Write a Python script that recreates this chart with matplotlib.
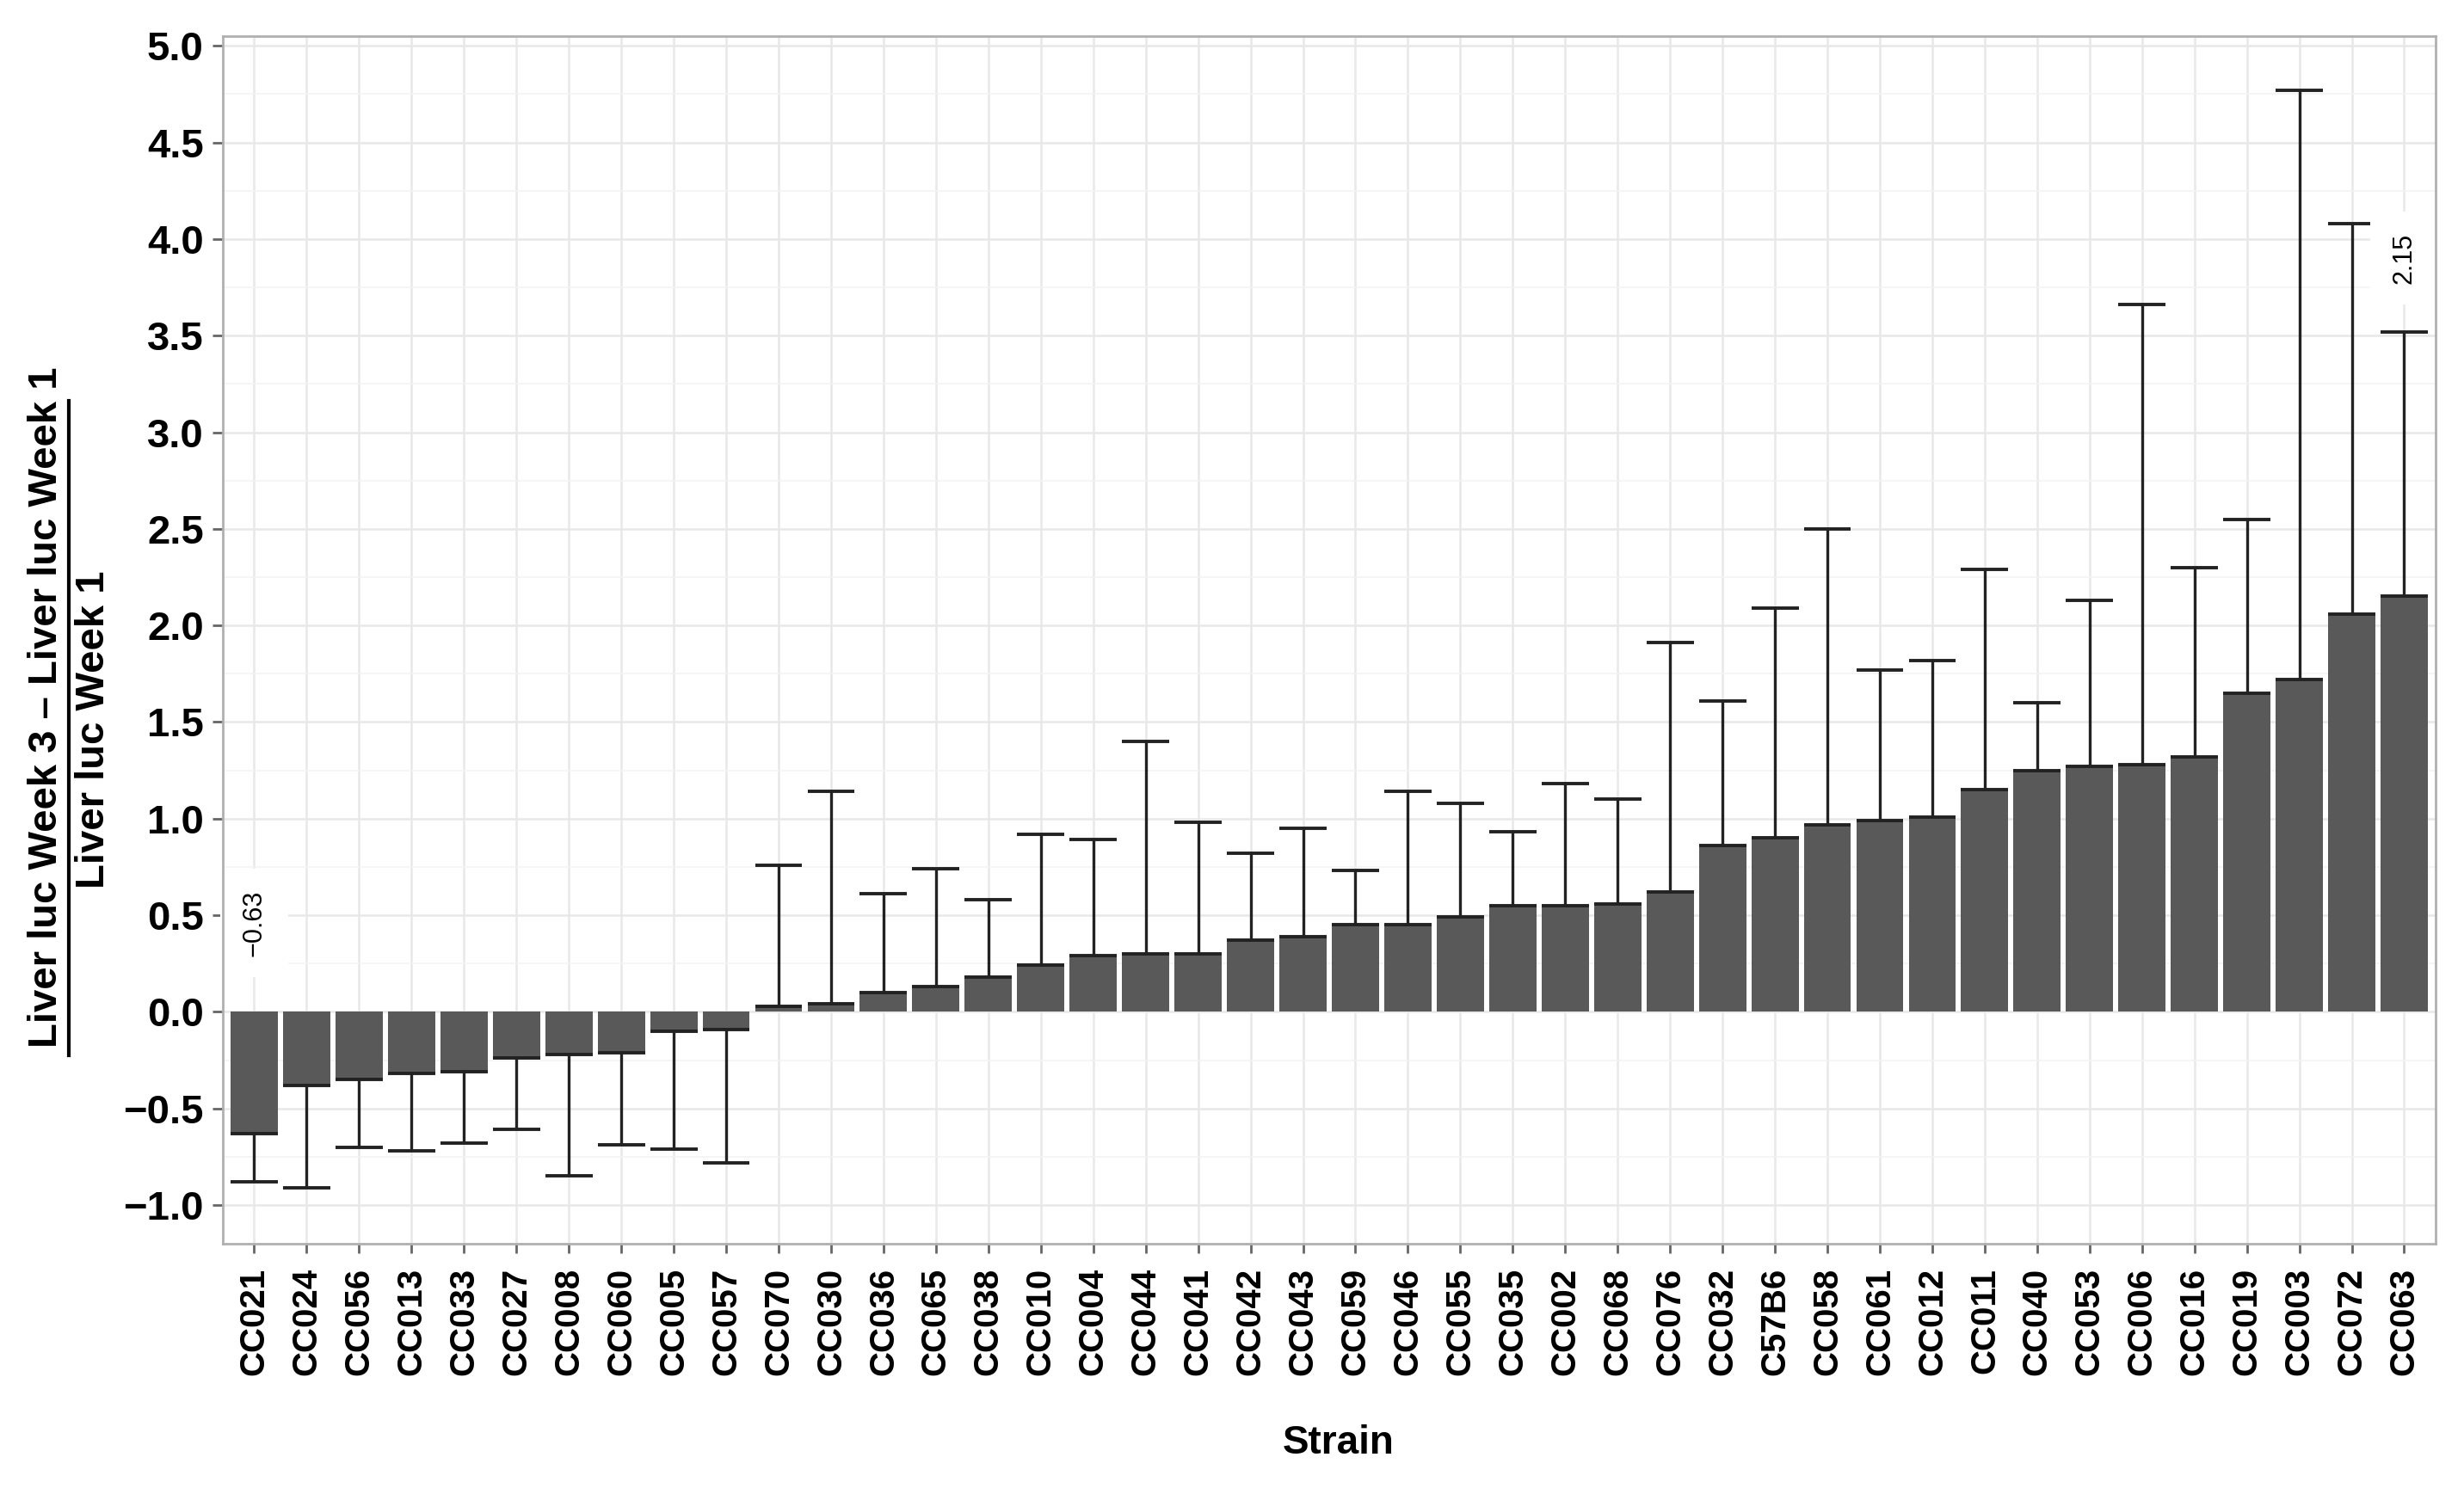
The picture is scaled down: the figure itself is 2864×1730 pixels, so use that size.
import numpy as np
import matplotlib
matplotlib.use("Agg")
import matplotlib.pyplot as plt
from matplotlib.ticker import MultipleLocator
from matplotlib.lines import Line2D

plt.rcParams['font.family'] = ['Liberation Sans', 'DejaVu Sans']

strains = ["CC021", "CC024", "CC056", "CC013", "CC033", "CC027", "CC008", "CC060",
           "CC005", "CC057", "CC070", "CC030", "CC036", "CC065", "CC038", "CC010",
           "CC004", "CC044", "CC041", "CC042", "CC043", "CC059", "CC046", "CC055",
           "CC035", "CC002", "CC068", "CC076", "CC032", "C57B6", "CC058", "CC061",
           "CC012", "CC011", "CC040", "CC053", "CC006", "CC016", "CC019", "CC003",
           "CC072", "CC063"]

# mean relative change per strain
means = [-0.63, -0.38, -0.35, -0.32, -0.31, -0.24, -0.22, -0.21, -0.10, -0.09,
         0.03, 0.04, 0.10, 0.13, 0.18, 0.24, 0.29, 0.30, 0.30, 0.37,
         0.39, 0.45, 0.45, 0.49, 0.55, 0.55, 0.56, 0.62, 0.86, 0.90,
         0.97, 0.99, 1.01, 1.15, 1.25, 1.27, 1.28, 1.32, 1.65, 1.72,
         2.06, 2.15]

# where each error bar ends (mean -/+ sd, away from zero)
err_end = [-0.88, -0.91, -0.70, -0.72, -0.68, -0.61, -0.85, -0.69, -0.71, -0.78,
           0.76, 1.14, 0.61, 0.74, 0.58, 0.92, 0.89, 1.40, 0.98, 0.82,
           0.95, 0.73, 1.14, 1.08, 0.93, 1.18, 1.10, 1.91, 1.61, 2.09,
           2.50, 1.77, 1.82, 2.29, 1.60, 2.13, 3.66, 2.30, 2.55, 4.77,
           4.08, 3.52]

x = np.arange(len(strains))
means = np.array(means)
err_end = np.array(err_end)

fig = plt.figure(figsize=(28.64, 17.30), dpi=100)
ax = fig.add_axes([0.0904, 0.1642, 0.8981, 0.8115])

ax.bar(x, means, width=0.9, color='#595959', zorder=2)

# error bars: stem plus caps at both ends
ecol = '#222222'
ax.vlines(x, means, err_end, color=ecol, lw=2.4, zorder=3)
ax.hlines(err_end, x - 0.45, x + 0.45, color=ecol, lw=2.8, zorder=3)
ax.hlines(means, x - 0.45, x + 0.45, color=ecol, lw=2.8, zorder=3)

# labels for min and max
i_min = int(np.argmin(means))
i_max = int(np.argmax(means))
box = dict(boxstyle='square,pad=0.8', fc='white', ec='none')
ax.text(i_min, 0.46, ("%.2f" % means[i_min]).replace('-', '\u2212'), rotation=90,
        ha='center', va='center', fontsize=22, bbox=box, zorder=4)
ax.text(i_max, 3.90, "%.2f" % means[i_max], rotation=90,
        ha='center', va='center', fontsize=22, bbox=box, zorder=4)

ax.set_xlim(-0.6, len(strains) - 0.4)
ax.set_ylim(-1.2, 5.05)
ax.set_xticks(x)
ax.set_xticklabels(strains, rotation=90, fontsize=29, fontweight='bold')
yt = np.arange(-1.0, 5.01, 0.5)
ax.set_yticks(yt)
ax.set_yticklabels([("%.1f" % v).replace('-', '\u2212') for v in yt], fontsize=34, fontweight='bold')
ax.yaxis.set_minor_locator(MultipleLocator(0.25))
ax.tick_params(axis='x', which='major', length=8, width=2, color='#666666', pad=12)
ax.tick_params(axis='y', which='major', length=9, width=2, color='#666666', pad=7)
ax.tick_params(which='minor', length=0)

ax.set_axisbelow(True)
ax.grid(which='major', color='#e8e8e8', lw=1.8)
ax.grid(which='minor', axis='y', color='#f3f3f3', lw=1.2)
for s in ax.spines.values():
    s.set_color('#b0b0b0')
    s.set_linewidth(2)
    s.set_zorder(6)

ax.set_xlabel("Strain", fontsize=33, fontweight='bold')
ax.xaxis.set_label_coords(0.504, -0.165)
ax.xaxis.label.set_va('center')

# y label written as a fraction
fig.text(54 / 2864, 1 - 822 / 1730, "Liver luc Week 3 \u2013 Liver luc Week 1", rotation=90,
         ha='center', va='center', fontsize=34, fontweight='bold')
fig.text(109 / 2864, 1 - 848 / 1730, "Liver luc Week 1", rotation=90,
         ha='center', va='center', fontsize=34, fontweight='bold')
fig.add_artist(Line2D([80 / 2864, 80 / 2864], [1 - 466 / 1730, 1 - 1227 / 1730],
                      color='black', lw=3, transform=fig.transFigure))

plt.savefig("out.png", dpi=100)
